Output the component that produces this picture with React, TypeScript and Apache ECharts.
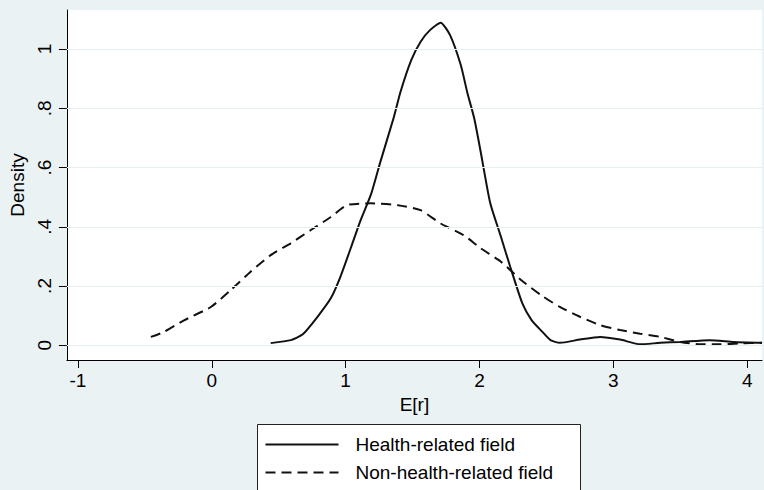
import { useEffect, useRef } from "react";
import * as echarts from "echarts";

const seriesNames = ["Health-related field", "Non-health-related field"];

const healthX = [0.44, 0.59, 0.68, 0.79, 0.89, 0.96, 1.04, 1.11, 1.19, 1.26, 1.36, 1.41, 1.49, 1.56, 1.63, 1.71, 1.78, 1.86, 1.91, 1.96, 2.01, 2.08, 2.16, 2.23, 2.32, 2.39, 2.47, 2.53, 2.6, 2.75, 2.9, 3.05, 3.2, 3.35, 3.5, 3.72, 3.9, 4.11];
const healthY = [0.007, 0.017, 0.037, 0.096, 0.159, 0.23, 0.33, 0.42, 0.51, 0.62, 0.77, 0.856, 0.963, 1.025, 1.064, 1.089, 1.047, 0.946, 0.851, 0.767, 0.65, 0.48, 0.366, 0.264, 0.141, 0.084, 0.045, 0.017, 0.008, 0.019, 0.028, 0.019, 0.003, 0.008, 0.011, 0.017, 0.011, 0.008];

const nonX = [-0.455, -0.356, -0.207, -0.007, 0.142, 0.29, 0.44, 0.59, 0.74, 0.89, 1.01, 1.19, 1.39, 1.56, 1.71, 1.88, 2.01, 2.16, 2.31, 2.46, 2.6, 2.75, 2.9, 3.05, 3.2, 3.35, 3.5, 3.65, 3.8, 3.95, 4.11];
const nonY = [0.028, 0.045, 0.084, 0.129, 0.186, 0.248, 0.304, 0.344, 0.389, 0.433, 0.473, 0.479, 0.473, 0.456, 0.411, 0.372, 0.327, 0.282, 0.22, 0.169, 0.129, 0.096, 0.068, 0.051, 0.039, 0.028, 0.011, 0.003, 0.003, 0.006, 0.008];

const xTicks = [-1, 0, 1, 2, 3, 4];
const yTicks = [0, 0.2, 0.4, 0.6, 0.8, 1];

const fmt = (v: number) => {
  if (Number.isInteger(v)) return String(v);
  return String(+v.toFixed(2)).replace(/^0\./, ".").replace(/^-0\./, "-.");
};

export default function App() {
  const ref = useRef<HTMLDivElement>(null);
  useEffect(() => {
    document.body.style.margin = "0";
    const chart = echarts.init(ref.current!, null, { renderer: "svg" });
    const font = "'Liberation Sans', Arial, sans-serif";
    const axisLineStyle = { color: "#000", width: 1 };
    const lineColor = "#111";
    const dash = [10, 6];
    chart.setOption({
      animation: false,
      backgroundColor: "#eaf2f3",
      textStyle: { fontFamily: font, color: "#000" },
      grid: {
        left: 66,
        right: 2,
        top: 10,
        bottom: 130,
        show: true,
        backgroundColor: "#ffffff",
        borderWidth: 0,
      },
      xAxis: {
        type: "value",
        min: -1.082,
        max: 4.11,
        name: "E[r]",
        nameLocation: "middle",
        nameGap: 34,
        nameTextStyle: { fontSize: 19, color: "#000", fontFamily: font },
        axisLine: { show: true, onZero: false, lineStyle: axisLineStyle },
        axisTick: { show: true, length: 8, customValues: xTicks, lineStyle: axisLineStyle },
        axisLabel: { customValues: xTicks, fontSize: 19, color: "#000", margin: 11, formatter: fmt, fontFamily: font },
        splitLine: { show: false },
      },
      yAxis: {
        type: "value",
        min: -0.05,
        max: 1.132,
        name: "Density",
        nameLocation: "middle",
        nameGap: 33,
        nameTextStyle: { fontSize: 19, color: "#000", fontFamily: font },
        axisLine: { show: true, onZero: false, lineStyle: axisLineStyle },
        axisTick: { show: true, length: 8, customValues: yTicks, lineStyle: axisLineStyle },
        axisLabel: { customValues: yTicks, rotate: 90, fontSize: 19, color: "#000", margin: 13, formatter: fmt, fontFamily: font },
        splitLine: { show: false },
      },
      graphic: [
        {
          type: "group",
          left: 257,
          top: 424,
          children: [
            {
              type: "rect",
              shape: { x: 0, y: 0, width: 323, height: 80 },
              style: { fill: "#ffffff", stroke: "#222", lineWidth: 1 },
            },
            {
              type: "line",
              shape: { x1: 8, y1: 20, x2: 81, y2: 20 },
              style: { stroke: lineColor, lineWidth: 2 },
            },
            {
              type: "text",
              x: 98,
              y: 20,
              style: { text: seriesNames[0], fontSize: 19, fill: "#000", fontFamily: font, verticalAlign: "middle" },
            },
            {
              type: "line",
              shape: { x1: 8, y1: 48, x2: 81, y2: 48 },
              style: { stroke: lineColor, lineWidth: 2, lineDash: dash },
            },
            {
              type: "text",
              x: 98,
              y: 48,
              style: { text: seriesNames[1], fontSize: 19, fill: "#000", fontFamily: font, verticalAlign: "middle" },
            },
          ],
        },
      ],
      series: [
        {
          type: "line",
          name: "grid",
          data: [],
          silent: true,
          z: 1,
          markLine: {
            silent: true,
            symbol: "none",
            label: { show: false },
            lineStyle: { color: "#e6eef0", width: 1, type: "solid" },
            data: yTicks.map((v) => ({ yAxis: v })),
          },
        },
        {
          type: "line",
          name: seriesNames[0],
          data: healthX.map((x, i) => [x, healthY[i]]),
          symbol: "none",
          smooth: 0.2,
          z: 3,
          lineStyle: { color: lineColor, width: 2, type: "solid" },
          itemStyle: { color: lineColor },
        },
        {
          type: "line",
          name: seriesNames[1],
          data: nonX.map((x, i) => [x, nonY[i]]),
          symbol: "none",
          smooth: 0.2,
          z: 3,
          lineStyle: { color: lineColor, width: 2, type: dash },
          itemStyle: { color: lineColor },
        },
      ],
    });
    return () => chart.dispose();
  }, []);
  return <div ref={ref} style={{ position: "fixed", left: 0, top: 0, width: 764, height: 490 }} />;
}
